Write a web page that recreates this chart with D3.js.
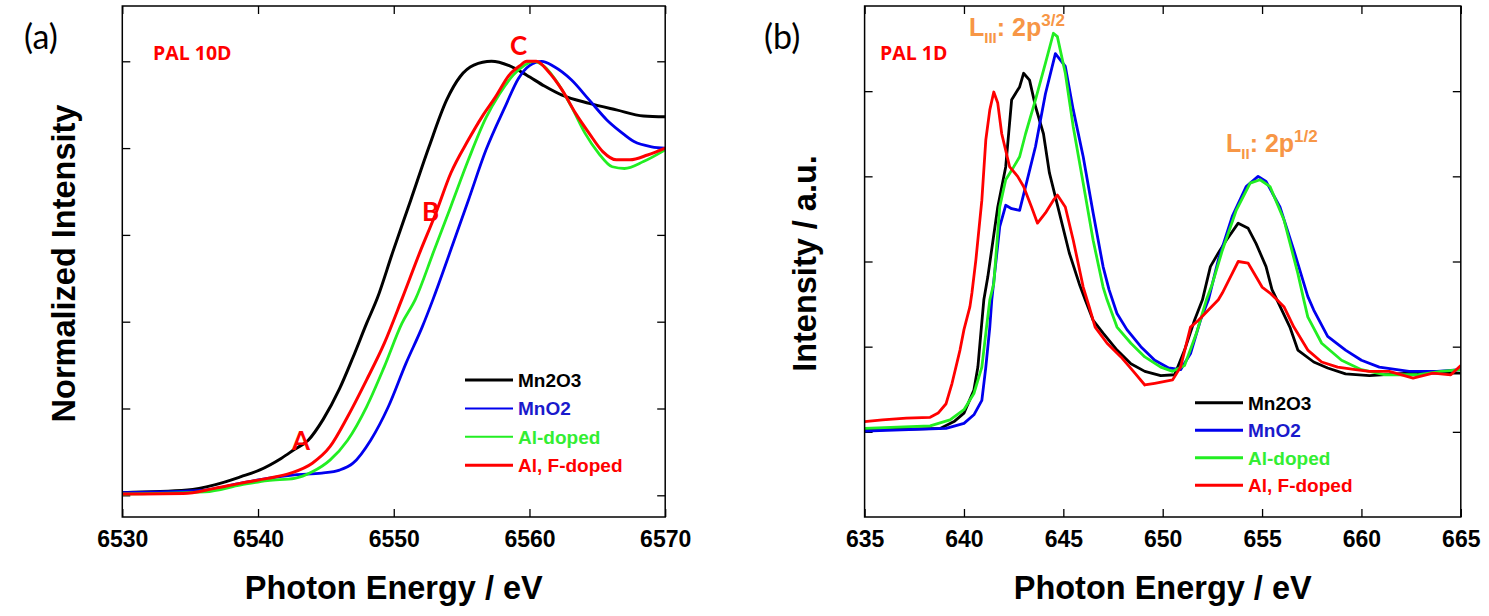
<!DOCTYPE html>
<html><head><meta charset="utf-8">
<script src="https://cdn.jsdelivr.net/npm/d3@7"></script>
<style>body{margin:0;background:#fff}svg{display:block}</style>
</head><body>
<svg id="c" width="1489" height="616"></svg>
<script>
// ---------- DATA ----------
const seriesNames = ["Mn2O3", "MnO2", "Al-doped", "Al, F-doped"];
const lineColors = ["#000000", "#0000ee", "#22ee22", "#ff0000"];
const textColors = ["#000000", "#1a1acc", "#33ee33", "#ff0000"];

const xTicksA = [6530, 6540, 6550, 6560, 6570];
const yTicksA = [0, 0.2, 0.4, 0.6, 0.8, 1.0];
const xTicksB = [635, 640, 645, 650, 655, 660, 665];
const yTicksB = [1, 2, 3, 4, 5];

// Panel (a): Mn K-edge, normalized intensity
const a_Mn2O3 = [[6530,0.006],[6534.8,0.012],[6536.8,0.024],[6538.75,0.043],[6540.1,0.058],[6541.7,0.085],[6542.7,0.106],[6543.7,0.127],[6544.8,0.175],[6546,0.245],[6547,0.318],[6548,0.396],[6548.8,0.455],[6549.9,0.558],[6551.25,0.68],[6552.6,0.803],[6553.9,0.911],[6554.9,0.965],[6555.9,0.991],[6557.2,1.0],[6558.5,0.99],[6559.8,0.968],[6561.1,0.943],[6562.4,0.922],[6564.4,0.903],[6566.4,0.888],[6568.4,0.874],[6570,0.872]];
const a_MnO2 = [[6530,0.006],[6536.1,0.012],[6538.75,0.028],[6540.7,0.039],[6542.7,0.047],[6544.7,0.051],[6546,0.058],[6547,0.074],[6548.3,0.127],[6549.6,0.204],[6550.9,0.304],[6552.1,0.388],[6552.9,0.452],[6554.2,0.565],[6555.5,0.68],[6556.8,0.796],[6558.2,0.895],[6559.2,0.961],[6560,0.99],[6560.9,1.0],[6561.8,0.988],[6563.1,0.957],[6564.4,0.911],[6565.7,0.865],[6566.7,0.838],[6567.7,0.815],[6569,0.803],[6570,0.8]];
const a_Al = [[6530,0.003],[6536.1,0.008],[6538.75,0.024],[6540.7,0.034],[6542.7,0.039],[6544,0.054],[6545.3,0.081],[6546.6,0.127],[6548,0.204],[6549.3,0.296],[6550.6,0.396],[6551.6,0.452],[6552.9,0.558],[6554.2,0.665],[6555.5,0.773],[6556.8,0.87],[6557.8,0.925],[6558.8,0.968],[6559.6,0.99],[6560.3,1.0],[6561.1,0.988],[6562.1,0.949],[6563.1,0.895],[6564.1,0.834],[6565.1,0.788],[6566.1,0.757],[6567,0.753],[6568.4,0.769],[6570,0.796]];
const a_AlF = [[6530,0.003],[6534.5,0.004],[6536.8,0.016],[6538.75,0.028],[6540.7,0.039],[6542.4,0.051],[6544,0.074],[6545.3,0.112],[6546.6,0.181],[6548,0.266],[6549.3,0.35],[6550.6,0.452],[6551.9,0.558],[6553.1,0.65],[6554.2,0.742],[6555.5,0.819],[6556.5,0.872],[6557.5,0.918],[6558.5,0.968],[6559.3,0.99],[6559.8,1.0],[6560.5,1.0],[6561.4,0.976],[6562.4,0.934],[6563.4,0.88],[6564.4,0.834],[6565.4,0.792],[6566.4,0.773],[6567.4,0.773],[6568.7,0.784],[6570,0.8]];

// Panel (b): Mn L-edge, intensity (a.u.)
const b_Mn2O3 = [[635,1.02],[638.8,1.04],[639.5,1.12],[640,1.22],[640.5,1.49],[640.7,1.76],[640.85,2.16],[641.0,2.55],[641.2,2.82],[641.7,3.64],[642.1,4.11],[642.4,4.9],[642.8,5.05],[643.0,5.21],[643.3,5.13],[643.6,4.82],[644.0,4.5],[644.3,4.04],[644.8,3.57],[645.3,3.1],[645.8,2.74],[646.1,2.55],[646.5,2.31],[647,2.16],[647.7,1.96],[648.4,1.8],[649.1,1.71],[649.9,1.66],[650.6,1.67],[651.1,1.96],[651.6,2.31],[652,2.55],[652.4,2.94],[652.8,3.1],[653.2,3.25],[653.8,3.45],[654.3,3.39],[654.7,3.21],[655.2,2.94],[655.5,2.67],[655.75,2.55],[656.4,2.23],[656.8,1.96],[657.6,1.82],[658.3,1.75],[659.2,1.68],[660.4,1.66],[662.4,1.69],[665,1.69]];
const b_MnO2 = [[635,1.01],[639.1,1.04],[640,1.1],[640.5,1.2],[640.9,1.37],[641.1,1.76],[641.3,2.23],[641.4,2.55],[641.8,3.41],[642.1,3.66],[642.4,3.62],[642.8,3.6],[643.1,3.88],[643.6,4.35],[644.1,4.97],[644.6,5.44],[645.1,5.29],[645.5,4.78],[646.0,4.23],[646.5,3.57],[647,2.94],[647.3,2.67],[647.7,2.39],[648.2,2.2],[648.9,2.0],[649.6,1.84],[650.3,1.75],[650.9,1.73],[651.4,1.92],[651.9,2.31],[652.3,2.55],[652.8,3.02],[653.5,3.53],[654.2,3.88],[654.8,4.0],[655.2,3.94],[655.9,3.64],[656.6,3.13],[657.3,2.59],[657.6,2.43],[658.3,2.12],[659.2,1.96],[660,1.84],[660.9,1.76],[662.4,1.71],[663.8,1.71],[665,1.73]];
const b_Al = [[635,1.04],[638.3,1.07],[639.3,1.14],[640,1.26],[640.5,1.45],[640.9,1.76],[641.1,2.16],[641.3,2.55],[641.5,2.74],[641.8,3.64],[642.1,3.96],[642.4,4.07],[642.8,4.23],[643.1,4.5],[643.6,4.9],[644.1,5.33],[644.5,5.68],[644.7,5.64],[645.1,5.21],[645.5,4.58],[646,3.92],[646.5,3.25],[647,2.7],[647.2,2.55],[647.7,2.23],[648.4,2.04],[649.1,1.88],[649.9,1.76],[650.5,1.71],[651.1,1.78],[651.7,2.16],[652.2,2.55],[652.5,2.74],[653,3.13],[653.7,3.6],[654.4,3.92],[654.9,3.96],[655.4,3.88],[656.1,3.49],[656.8,2.86],[657.1,2.55],[657.3,2.35],[658,2.04],[659,1.84],[660,1.73],[661.2,1.67],[662.8,1.67],[664,1.71],[665,1.73]];
const b_AlF = [[635,1.12],[635.9,1.14],[637.1,1.16],[638.3,1.17],[638.7,1.22],[639.1,1.33],[639.4,1.57],[639.8,1.96],[640,2.2],[640.3,2.47],[640.4,2.63],[640.6,3.02],[640.9,3.72],[641.1,4.43],[641.3,4.78],[641.5,4.99],[641.7,4.86],[641.9,4.5],[642.3,4.11],[642.7,4.0],[643.0,3.88],[643.4,3.64],[643.7,3.45],[644.1,3.57],[644.5,3.72],[644.7,3.78],[645.1,3.64],[645.5,3.25],[646,2.7],[646.3,2.47],[646.6,2.23],[647.2,2.04],[647.9,1.88],[648.6,1.69],[649.1,1.55],[649.6,1.57],[650.5,1.61],[650.9,1.76],[651.4,2.23],[651.8,2.31],[652.3,2.43],[652.8,2.55],[653,2.63],[653.5,2.86],[653.8,3.0],[654.3,2.98],[654.7,2.82],[655,2.7],[655.4,2.63],[655.75,2.55],[656.1,2.47],[656.6,2.23],[657.3,1.96],[658,1.82],[658.8,1.76],[659.7,1.73],[660.4,1.71],[661.4,1.71],[662.6,1.63],[663.6,1.69],[664.5,1.67],[665,1.78]];

// ---------- DRAW ----------
const FONT = "'Liberation Sans', Arial, Helvetica, sans-serif";
const svg = d3.select("#c");

function panel(cfg) {
  const g = svg.append("g");
  const x = d3.scaleLinear().domain(cfg.xDomain).range([cfg.left, cfg.right]);
  const y = d3.scaleLinear().domain(cfg.yDomain).range([cfg.bottom, cfg.top]);
  const clipId = "clip" + cfg.id;
  svg.append("clipPath").attr("id", clipId).append("rect")
    .attr("x", cfg.left).attr("y", cfg.top)
    .attr("width", cfg.right - cfg.left).attr("height", cfg.bottom - cfg.top);

  const tl = 8;
  const ax = g.append("g").attr("transform", `translate(0,${cfg.bottom})`)
    .call(d3.axisBottom(x).tickValues(cfg.xTicks).tickSizeInner(-tl).tickSizeOuter(0).tickFormat(d3.format("d")));
  ax.select(".domain").remove();
  ax.selectAll("text").attr("y", 30).attr("dy", 0)
    .style("font-family", FONT).style("font-weight", "bold").style("font-size", "23px").attr("fill", "#000");
  ax.selectAll("line").attr("stroke", "#000").attr("stroke-width", 1.3);

  const axT = g.append("g").attr("transform", `translate(0,${cfg.top})`)
    .call(d3.axisTop(x).tickValues(cfg.xTicks).tickSizeInner(-tl).tickSizeOuter(0).tickFormat(""));
  axT.select(".domain").remove();
  axT.selectAll("line").attr("stroke", "#000").attr("stroke-width", 1.3);

  const axL = g.append("g").attr("transform", `translate(${cfg.left},0)`)
    .call(d3.axisLeft(y).tickValues(cfg.yTicks).tickSizeInner(-tl).tickSizeOuter(0).tickFormat(""));
  axL.select(".domain").remove();
  axL.selectAll("line").attr("stroke", "#000").attr("stroke-width", 1.3);

  const axR = g.append("g").attr("transform", `translate(${cfg.right},0)`)
    .call(d3.axisRight(y).tickValues(cfg.yTicks).tickSizeInner(-tl).tickSizeOuter(0).tickFormat(""));
  axR.select(".domain").remove();
  axR.selectAll("line").attr("stroke", "#000").attr("stroke-width", 1.3);

  const line = d3.line().x(d => x(d[0])).y(d => y(d[1])).curve(cfg.curve);
  const lg = g.append("g").attr("clip-path", `url(#${clipId})`);
  cfg.series.forEach((s, i) => {
    lg.append("path").datum(s).attr("d", line).attr("fill", "none")
      .attr("stroke", lineColors[i]).attr("stroke-width", cfg.lw[i])
      .attr("stroke-linejoin", "round");
  });

  g.append("rect").attr("x", cfg.left).attr("y", cfg.top)
    .attr("width", cfg.right - cfg.left).attr("height", cfg.bottom - cfg.top)
    .attr("fill", "none").attr("stroke", "#000").attr("stroke-width", 1.5);

  g.append("text").attr("x", (cfg.left + cfg.right) / 2).attr("y", 599)
    .attr("text-anchor", "middle").style("font-family", FONT).style("font-weight", "bold")
    .style("font-size", "32.5px").text("Photon Energy / eV");
  g.append("text").attr("transform", `translate(${cfg.yTitleX},${(cfg.top + cfg.bottom) / 2 + 2}) rotate(-90)`)
    .attr("text-anchor", "middle").style("font-family", FONT).style("font-weight", "bold")
    .style("font-size", "32.5px").text(cfg.yTitle);

  g.append("text").attr("x", cfg.labelX).attr("y", 49)
    .style("font-family", "Lato, 'Open Sans', sans-serif").style("font-size", "34px").text(cfg.label);
  g.append("text").attr("x", cfg.palX).attr("y", 59.5).attr("fill", "#ff0000")
    .style("font-family", "'Open Sans', 'DejaVu Sans', sans-serif").style("font-weight", "bold")
    .style("font-size", "19.5px").text(cfg.pal);

  seriesNames.forEach((n, i) => {
    const yy = cfg.legY + i * cfg.legDy;
    g.append("line").attr("x1", cfg.legX).attr("x2", cfg.legX + 48).attr("y1", yy).attr("y2", yy)
      .attr("stroke", lineColors[i]).attr("stroke-width", cfg.legLw[i]);
    g.append("text").attr("x", cfg.legX + 53).attr("y", yy + 7).attr("fill", textColors[i])
      .style("font-family", FONT).style("font-weight", "bold").style("font-size", "19px").text(n);
  });
  return { g, x, y };
}

const pa = panel({
  id: "a", left: 122.3, right: 665.2, top: 6, bottom: 517,
  xDomain: [6530, 6570], yDomain: [-0.05, 1.1274], xTicks: xTicksA, yTicks: yTicksA,
  series: [a_Mn2O3, a_MnO2, a_Al, a_AlF], lw: [3, 2.8, 2.8, 3],
  curve: d3.curveMonotoneX,
  yTitle: "Normalized Intensity", yTitleX: 75,
  label: "(a)", labelX: 24, pal: "PAL 10D", palX: 153,
  legX: 465, legY: 380, legDy: 28.4, legLw: [3, 2, 2, 3]
});

const pb = panel({
  id: "b", left: 864.6, right: 1460.8, top: 6, bottom: 517,
  xDomain: [635, 665], yDomain: [0, 6], xTicks: xTicksB, yTicks: yTicksB,
  series: [b_Mn2O3, b_MnO2, b_Al, b_AlF], lw: [2.8, 2.8, 2.8, 2.8],
  curve: d3.curveLinear,
  yTitle: "Intensity / a.u.", yTitleX: 816,
  label: "(b)", labelX: 764, pal: "PAL 1D", palX: 880,
  legX: 1195, legY: 402.7, legDy: 27.5, legLw: [3, 3, 3, 3]
});

const abc = [["A", 292, 450], ["B", 422, 221], ["C", 510, 55]];
pa.g.selectAll("text.abc").data(abc).enter().append("text").attr("class", "abc")
  .attr("x", d => d[1]).attr("y", d => d[2]).attr("fill", "#ff0000")
  .style("font-family", "Lato, 'Open Sans', sans-serif").style("font-weight", "bold")
  .style("font-size", "26px").text(d => d[0]);

function edgeLabel(xx, yy, sub, sup) {
  const t = pb.g.append("text").attr("x", xx).attr("y", yy).attr("fill", "#f79646")
    .style("font-family", FONT).style("font-weight", "bold").style("font-size", "25px");
  t.append("tspan").text("L");
  t.append("tspan").attr("dy", 7).style("font-size", "15px").text(sub);
  t.append("tspan").attr("dy", -7).text(": 2p");
  t.append("tspan").attr("dy", -10).style("font-size", "17px").text(sup);
}
edgeLabel(969, 36, "III", "3/2");
edgeLabel(1226, 151.7, "II", "1/2");
</script>
</body></html>
